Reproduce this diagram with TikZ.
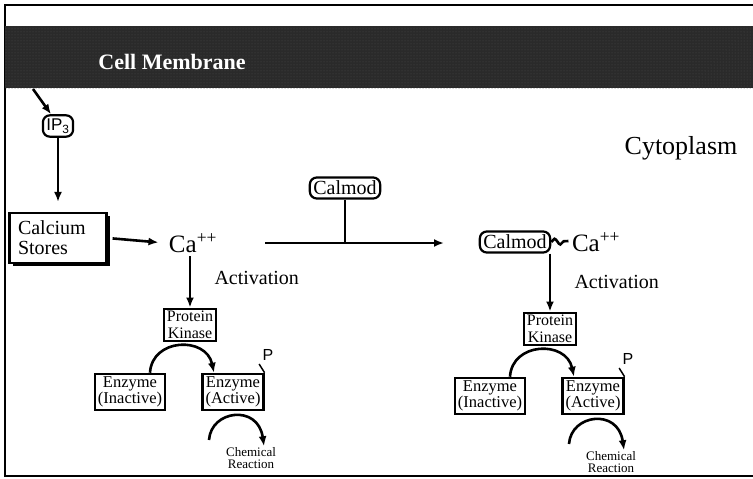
\documentclass[tikz,border=0pt]{standalone}
\usepackage{fontspec}
\setmainfont{Liberation Serif}
\setsansfont{Liberation Sans}
\usetikzlibrary{arrows.meta,positioning,calc,shadows,patterns,decorations.pathmorphing}
\definecolor{membrane}{RGB}{42,42,42}

\begin{document}
\begin{tikzpicture}[x=1pt, y=-1pt,
    link/.style={line width=2.6pt, -{Latex[length=10pt,width=8pt]}},
    stem/.style={line width=2.6pt},
    enzbox/.style={draw, line width=2.2pt, align=center, inner sep=3pt, font=\fontsize{16.5}{16}\selectfont},
    tagbox/.style={draw, line width=2.2pt, rounded corners=7pt, inner sep=3.5pt},
    every node/.style={text=black}]
    \useasboundingbox (0,0) rectangle (753,479);
    % frame
    \draw[line width=1.4pt] (753,5) -- (5,5) -- (5,476) -- (753,476);
    % membrane band
    \fill[membrane] (5,26) rectangle (753,88);
    \fill[pattern=dots, pattern color=black!70] (5,26) rectangle (753,88);
    \node[text=white, font=\bfseries\fontsize{22}{22}\selectfont] (membranelabel) at (172,62) {Cell Membrane};
    \node[font=\fontsize{26}{26}\selectfont] (cytoplasm) at (681,148) {Cytoplasm};
    % IP3 and the calcium stores
    \coordinate (release) at (33,89);
    \node[tagbox, font=\sffamily\fontsize{17}{17}\selectfont] (ipthree) at (58,126) {IP\textsubscript{3}};
    \node[draw, line width=2.2pt, align=left, minimum width=97pt, minimum height=50pt, text width=80pt,
          font=\fontsize{20}{20}\selectfont, fill=white,
          drop shadow={shadow xshift=3pt, shadow yshift=-3pt, fill=black, opacity=1}] (stores) at (58,238) {Calcium\\Stores};
    \draw[link] (release) -- ([xshift=-7pt]ipthree.north);
    \draw[link, shorten >=10pt] (ipthree.south) -- (stores.north);
    \node[font=\fontsize{25}{25}\selectfont] (caleft) at (193,243) {Ca\textsuperscript{++}};
    \draw[link, shorten <=5pt, shorten >=7pt] (stores.east) -- (caleft.west);
    % calmodulin binds the free calcium
    \node[tagbox, font=\fontsize{20}{20}\selectfont] (calmodtop) at (345,188) {Calmod};
    \node[tagbox, font=\fontsize{20}{20}\selectfont] (calmodR) at (515,242) {Calmod};
    \node[font=\fontsize{25}{25}\selectfont] (caright) at (596,242) {Ca\textsuperscript{++}};
    \coordinate (flowstart) at (265,243);
    \coordinate (flowend) at (444,243);
    \coordinate (junction) at (calmodtop.south |- flowstart);
    \draw[link] (flowstart) -- (flowend);
    \draw[stem] (calmodtop.south) -- (junction);
    \draw[stem, decorate, decoration={snake, amplitude=3pt, segment length=11pt}] (calmodR.east) -- ([yshift=1pt]caright.west);
    % the two kinase cascades
    \foreach \n/\dx/\dy in {L/0/0, R/360/4} {
      \begin{scope}[shift={(\dx,\dy)}]
        \node[font=\fontsize{20}{20}\selectfont, anchor=west] (activ\n) at (211,278) {Activation};
        \node[enzbox, font=\fontsize{16}{17}\selectfont, inner sep=2.5pt] (kinase\n) at (190,325) {Protein\\Kinase};
        \node[enzbox] (inactive\n) at (130,392) {Enzyme\\(Inactive)};
        \node[enzbox] (active\n) at (233,392) {Enzyme\\(Active)};
        \node[font=\sffamily\fontsize{16}{16}\selectfont] (phos\n) at (268,355) {P};
        \node[font=\fontsize{13}{12}\selectfont, align=center, inner sep=1pt] (reaction\n) at (251,458) {Chemical\\Reaction};
        \draw[stem, line width=1.5pt] (active\n.north east) -- (phos\n.south west);
        % phosphorylation arc
        \draw[link] ([xshift=20pt]inactive\n.north) .. controls (152,338) and (206,336) .. ([xshift=-19pt]active\n.north);
        % arc into the chemical reaction
        \draw[link] (209,440) .. controls (211,410) and (258,404) .. ([xshift=13pt]reaction\n.north);
      \end{scope}
    }
    % activation arrows
    \draw[link] (kinaseL.north |- caleft.south) -- (kinaseL.north);
    \draw[link] (kinaseR.north |- calmodR.south) -- (kinaseR.north);
\end{tikzpicture}
\end{document}
